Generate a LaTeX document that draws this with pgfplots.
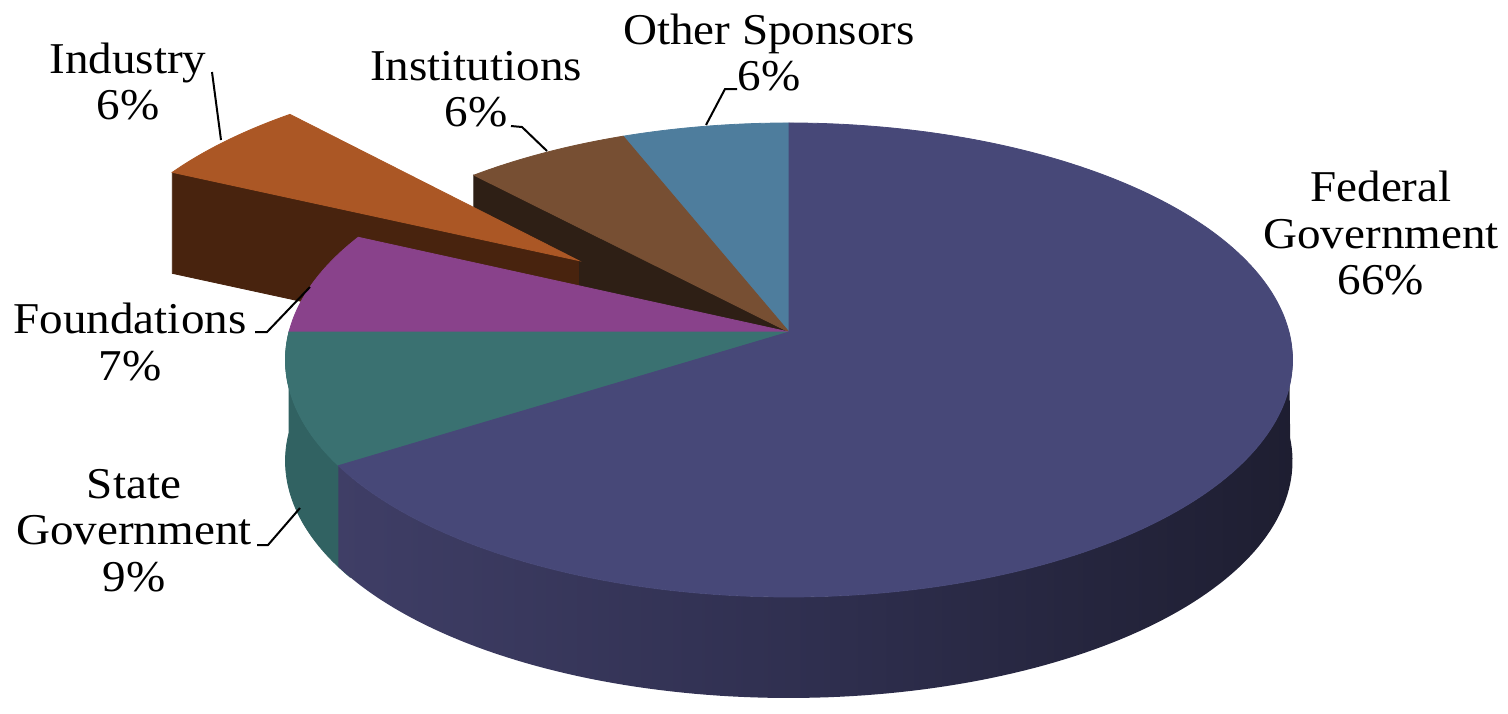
\documentclass[border=0pt]{standalone}
\usepackage{pgfplots}
\pgfplotsset{compat=1.18}
\usepackage{pgfplotstable}
\usepackage{fontspec}
\setmainfont{Liberation Serif}[FakeStretch=1.07]

\definecolor{fedtop}{HTML}{474878}
\definecolor{fedL}{HTML}{3F3E66}
\definecolor{fedM}{HTML}{2F2F4F}
\definecolor{fedR}{HTML}{1E1E31}
\definecolor{statetop}{HTML}{3A7171}
\definecolor{stateside}{HTML}{316262}
\definecolor{foundtop}{HTML}{89428B}
\definecolor{indtop}{HTML}{AB5725}
\definecolor{indside}{HTML}{48230E}
\definecolor{insttop}{HTML}{774F33}
\definecolor{instside}{HTML}{2E1F15}
\definecolor{othertop}{HTML}{4E7D9D}

% share of research funding (percent) and explode distance
\pgfplotstableread{
name value explode
Federal 66 0
State 9 0
Foundations 7 0
Industry 6 0.54
Institutions 6 0
Other 6 0
}\piedata

\pgfplotstablegetelem{0}{value}\of\piedata \let\vFed\pgfplotsretval
\pgfplotstablegetelem{1}{value}\of\piedata \let\vSta\pgfplotsretval
\pgfplotstablegetelem{2}{value}\of\piedata \let\vFou\pgfplotsretval
\pgfplotstablegetelem{3}{value}\of\piedata \let\vInd\pgfplotsretval
\pgfplotstablegetelem{4}{value}\of\piedata \let\vIns\pgfplotsretval
\pgfplotstablegetelem{5}{value}\of\piedata \let\vOth\pgfplotsretval
\pgfplotstablegetelem{3}{explode}\of\piedata \let\eInd\pgfplotsretval

% projection constants (image pixels)
\def\CX{789}\def\CY{332}\def\RA{500}\def\RB{233.7}\def\KP{0.118}\def\DP{101}

\pgfmathsetmacro\aA{90}
\pgfmathsetmacro\aB{\aA-3.6*\vFed}
\pgfmathsetmacro\aC{\aB-3.6*\vSta}
\pgfmathsetmacro\aD{\aC-3.6*\vFou}
\pgfmathsetmacro\aE{\aD-3.6*\vInd}
\pgfmathsetmacro\aF{\aE-3.6*\vIns}
\pgfmathsetmacro\aG{\aF-3.6*\vOth}
\pgfmathsetmacro\aBx{\aB+3}

\newcommand\projpt[4]{%
  \pgfmathsetmacro#1{\CX+\RA*(#3)/(1+\KP*(#4))}%
  \pgfmathsetmacro#2{\CY-\RB*(#4)/(1+\KP*(#4))}}

% Industry explode offset
\pgfmathsetmacro\exI{\eInd*cos((\aD+\aE)/2)}
\pgfmathsetmacro\eyI{\eInd*sin((\aD+\aE)/2)}
\projpt\tipX\tipY{\exI}{\eyI}
\pgfmathsetmacro\tipYD{\tipY+\DP}
\projpt\indoX\indoY{\exI+cos(\aD)}{\eyI+sin(\aD)}
\pgfmathsetmacro\indoYD{\indoY+\DP}
% Institutions side edge
\projpt\insoX\insoY{cos(\aE)}{sin(\aE)}
\pgfmathsetmacro\insoYD{\insoY+\DP}
\pgfmathsetmacro\CYD{\CY+\DP}

\newcommand\wall[3]{%
  \addplot[#1, domain=0:2, samples=241, variable=\s]
    ({\CX+\RA*cos((#2)+((#3)-(#2))*min(\s,2-\s))/(1+\KP*sin((#2)+((#3)-(#2))*min(\s,2-\s)))},
     {\CY-\RB*sin((#2)+((#3)-(#2))*min(\s,2-\s))/(1+\KP*sin((#2)+((#3)-(#2))*min(\s,2-\s)))+\DP*(\s>1)}) -- cycle;}

\newcommand\lab{\fontsize{22}{26}\selectfont}

\begin{document}
\begin{tikzpicture}
\begin{axis}[
  width=754pt, height=356.5pt, scale only axis,
  xmin=0, xmax=1508, ymin=0, ymax=713, y dir=reverse,
  hide axis, clip=false]
\addplot[draw=none] coordinates {(0,0) (1508,713)};

% Institutions radial side (visible in the gap)
\addplot[fill=instside, draw=instside] coordinates {(\CX,\CY) (\insoX,\insoY) (\insoX,\insoYD) (\CX,\CYD)} -- cycle;
% Other Sponsors and Institutions tops
\addplot[fill=othertop, draw=othertop, line width=0.4pt, domain=\aG:\aF, samples=60, variable=\t]
  ({\CX+\RA*cos(\t)/(1+\KP*sin(\t))},{\CY-\RB*sin(\t)/(1+\KP*sin(\t))}) -- (\CX,\CY) -- cycle;
\addplot[fill=insttop, draw=insttop, line width=0.4pt, domain=\aF:\aE, samples=60, variable=\t]
  ({\CX+\RA*cos(\t)/(1+\KP*sin(\t))},{\CY-\RB*sin(\t)/(1+\KP*sin(\t))}) -- (\CX,\CY) -- cycle;
% Industry (exploded)
\addplot[fill=indside, draw=indside] coordinates {(\tipX,\tipY) (\indoX,\indoY) (\indoX,\indoYD) (\tipX,\tipYD)} -- cycle;
\addplot[fill=indtop, draw=indtop, line width=0.4pt, domain=\aE:\aD, samples=60, variable=\t]
  ({\CX+\RA*(\exI+cos(\t))/(1+\KP*(\eyI+sin(\t)))},{\CY-\RB*(\eyI+sin(\t))/(1+\KP*(\eyI+sin(\t)))}) -- (\tipX,\tipY) -- cycle;
% front walls
\wall{fill=stateside, draw=stateside, line width=0.4pt}{\aC}{\aBx}
\wall{draw=none, left color=fedL, right color=fedR, middle color=fedM}{\aB}{0}
% tops of the main body
\addplot[fill=foundtop, draw=foundtop, line width=0.4pt, domain=\aD:\aC, samples=60, variable=\t]
  ({\CX+\RA*cos(\t)/(1+\KP*sin(\t))},{\CY-\RB*sin(\t)/(1+\KP*sin(\t))}) -- (\CX,\CY) -- cycle;
\addplot[fill=statetop, draw=statetop, line width=0.4pt, domain=\aC:\aB, samples=60, variable=\t]
  ({\CX+\RA*cos(\t)/(1+\KP*sin(\t))},{\CY-\RB*sin(\t)/(1+\KP*sin(\t))}) -- (\CX,\CY) -- cycle;
\addplot[fill=fedtop, draw=fedtop, line width=0.4pt, domain=\aB:\aA, samples=200, variable=\t]
  ({\CX+\RA*cos(\t)/(1+\KP*sin(\t))},{\CY-\RB*sin(\t)/(1+\KP*sin(\t))}) -- (\CX,\CY) -- cycle;

% leader lines
\addplot[black, line width=1pt] coordinates {(706,125) (725,89) (737,89)};
\addplot[black, line width=1pt] coordinates {(511,126) (522,127) (547,151)};
\addplot[black, line width=1pt] coordinates {(212,72) (221,140)};
\addplot[black, line width=1pt] coordinates {(255,332) (267,332) (310,287)};
\addplot[black, line width=1pt] coordinates {(257,545) (268,545) (300,508)};

% labels
\node[anchor=base, font=\lab] at (1381,201) {Federal};
\node[anchor=base, font=\lab] at (1381,248) {Government};
\node[anchor=base, font=\lab] at (1381,294) {66\%};
\node[anchor=base, font=\lab] at (769,44) {Other Sponsors};
\node[anchor=base, font=\lab] at (769,90) {6\%};
\node[anchor=base, font=\lab] at (476,80) {Institutions};
\node[anchor=base, font=\lab] at (476,126) {6\%};
\node[anchor=base, font=\lab] at (128,73) {Industry};
\node[anchor=base, font=\lab] at (128,119) {6\%};
\node[anchor=base, font=\lab] at (130,333) {Foundations};
\node[anchor=base, font=\lab] at (130,380) {7\%};
\node[anchor=base, font=\lab] at (134,498) {State};
\node[anchor=base, font=\lab] at (134,544) {Government};
\node[anchor=base, font=\lab] at (134,591) {9\%};
\end{axis}
\end{tikzpicture}
\end{document}
